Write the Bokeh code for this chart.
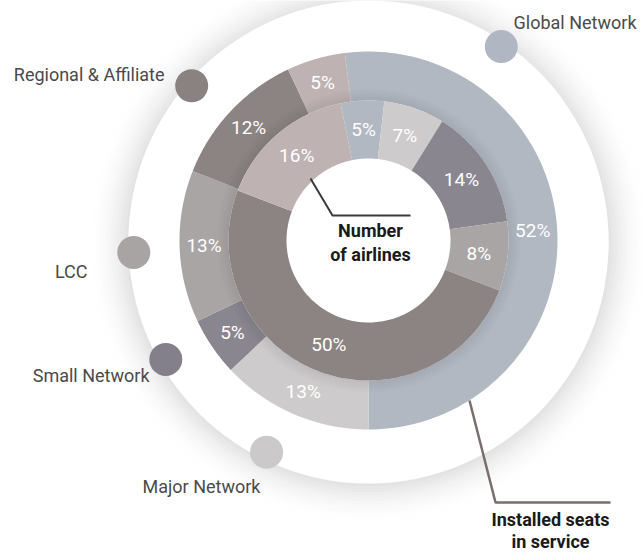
import numpy as np
from bokeh.plotting import figure
from bokeh.models import Range1d
from bokeh.core.properties import value
from bokeh.embed import file_html
from bokeh.resources import INLINE

# ---------------- data ----------------
categories = ["Global Network", "Major Network", "Small Network", "LCC",
              "Regional & Affiliate", "Other"]
seats_pct = [52, 13, 5, 13, 12, 5]          # outer ring: installed seats in service
airlines_pct = [5, 7, 14, 8, 50, 16]        # inner ring: number of airlines
colors = ["#B1B8C2", "#CECBCC", "#8A8690", "#A9A5A5", "#8C8482", "#BEB2B2"]
dot_colors = ["#B0B7C2", "#CCC9CA", "#84808B", "#A8A4A4", "#8A8280"]
legend_names = ["Global Network", "Major Network", "Small Network", "LCC",
                "Regional & Affiliate"]

# ---------------- layout (pixel-like data space) ----------------
W, H = 643, 556
CX, CY = 368, 240
R_HOLE, R_MID, R_OUT, R_BAND, R_DOT = 82, 140, 189, 240, 235
SEATS_START = -7.2      # degrees clockwise from 12 o'clock
AIRLINES_START = -11.5

p = figure(width=W, height=H, output_backend="svg", toolbar_location=None,
           x_range=Range1d(0, W), y_range=Range1d(H, 0),
           min_border=0, outline_line_color=None, background_fill_color="white",
           border_fill_color="white")
p.axis.visible = False
p.grid.visible = False


def pt(theta_deg, r):
    t = np.radians(theta_deg)
    return CX + r * np.sin(t), CY - r * np.cos(t)


def ring(pcts, start, r0, r1):
    xs, ys, mids = [], [], []
    a = start
    for v in pcts:
        span = v / 100 * 360
        th = np.linspace(a, a + span, 120)
        xo, yo = pt(th, r1)
        xi, yi = pt(th[::-1], r0)
        xs.append(list(np.concatenate([xo, xi])))
        ys.append(list(np.concatenate([yo, yi])))
        mids.append(a + span / 2)
        a += span
    return xs, ys, mids


# outer drop shadow of white band
n = 14
rin = [R_BAND + 3 * i for i in range(n)]
rout = [r + 3 for r in rin]
alph = [0.11 * (1 - i / n) ** 2 for i in range(n)]
p.annulus(x=[CX] * n, y=[CY + 3] * n, inner_radius=rin, outer_radius=rout,
          fill_color="black", fill_alpha=alph, line_color=None)
p.circle(x=[CX], y=[CY], radius=R_BAND, fill_color="white", line_color=None)

# rings
xs, ys, mids_o = ring(seats_pct, SEATS_START, R_MID, R_OUT)
p.patches(xs, ys, fill_color=colors, line_color=None)

# shadow of inner donut on outer ring
m = 6
rin2 = [R_MID + 2 * i for i in range(m)]
rout2 = [r + 2 for r in rin2]
alph2 = [0.07 * (1 - i / m) for i in range(m)]
p.annulus(x=[CX] * m, y=[CY] * m, inner_radius=rin2, outer_radius=rout2,
          fill_color="black", fill_alpha=alph2, line_color=None)

xs2, ys2, mids_i = ring(airlines_pct, AIRLINES_START, R_HOLE, R_MID)
p.patches(xs2, ys2, fill_color=colors, line_color=None)

# percent labels
font = value("Roboto")
lx, ly = pt(np.array(mids_o), (R_MID + R_OUT) / 2)
p.text(x=list(lx), y=list(ly), text=[f"{v}%" for v in seats_pct],
       text_font=font, text_font_size="19px", text_color="white",
       text_align="center", text_baseline="middle")
lx2, ly2 = pt(np.array(mids_i), (R_HOLE + R_MID) / 2)
p.text(x=list(lx2), y=list(ly2), text=[f"{v}%" for v in airlines_pct],
       text_font=font, text_font_size="19px", text_color="white",
       text_align="center", text_baseline="middle")

# legend dots on the band
dot_angles = [34.4, 205.7, 239.6, 267.1, 311.2]
dx, dy = pt(np.array(dot_angles), R_DOT)
p.circle(x=list(dx), y=list(dy), radius=16.5, fill_color=dot_colors, line_color=None)

# legend texts
lab_x = [636, 201, 149, 87, 164]
lab_y = [22, 486, 375, 271, 74]
lab_align = ["right", "center", "right", "right", "right"]
p.text(x=lab_x, y=lab_y, text=legend_names, text_font=font, text_font_size="18px",
       text_color="#4A4A4A", text_align=lab_align, text_baseline="middle")

# callouts
p.line(x=[310, 332, 410], y=[178, 215, 215], line_color="#3A3A3A", line_width=2)
p.text(x=[370, 370], y=[230, 254], text=["Number", "of airlines"], text_font=font,
       text_font_size="18px", text_font_style="bold", text_color="#1A1A1A",
       text_align="center", text_baseline="middle")

p.line(x=[469, 495, 610], y=[400, 502, 502], line_color="#7A6E6C", line_width=2.5)
p.text(x=[550, 550], y=[519, 541], text=["Installed seats", "in service"], text_font=font,
       text_font_size="18px", text_font_style="bold", text_color="#1A1A1A",
       text_align="center", text_baseline="middle")

open("out.html", "w").write(file_html(p, INLINE))
